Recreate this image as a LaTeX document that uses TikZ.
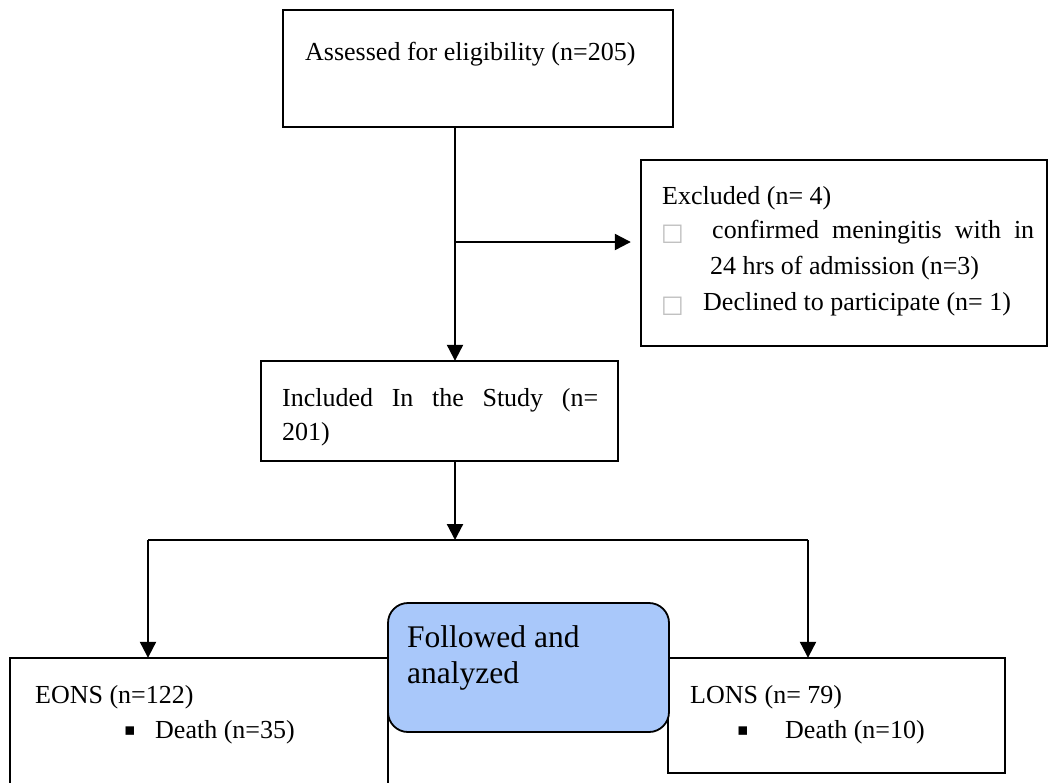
\documentclass[tikz,border=0pt]{standalone}
\usepackage{fontspec}
\setmainfont{Liberation Serif}
\newfontfamily\dejavu{DejaVu Sans}
\usetikzlibrary{arrows.meta}
\definecolor{followblue}{HTML}{A9C8FA}
\begin{document}
\begin{tikzpicture}[x=1pt,y=-1pt,
  box/.style={draw, line width=1.8pt, inner sep=0pt},
  lbl/.style={anchor=base west, inner sep=0pt, font=\fontsize{26}{35}\selectfont},
  conn/.style={line width=2.2pt},
  arr/.style={conn, -{Triangle[length=16pt,width=16pt]}},
  graybox/.style={lbl, font=\dejavu\fontsize{24}{24}\selectfont, text=black!25},
  sqbullet/.style={lbl, font=\dejavu\fontsize{17}{17}\selectfont}]
\useasboundingbox (0,0) rectangle (1049,782);
\fill[white] (0,0) rectangle (1049,782);
% boxes
\draw[box] (283,10) rectangle (673,127);
\node (A) at (478,68.5) [minimum width=390pt, minimum height=117pt] {};
\draw[box] (641,160) rectangle (1047,346);
\node (X) at (844,253) [minimum width=406pt, minimum height=186pt] {};
\draw[box] (261,361) rectangle (618,461);
\node (B) at (439.5,411) [minimum width=357pt, minimum height=100pt] {};
\draw[box] (10,658) rectangle (388,800);
\node (E) at (199,729) [minimum width=378pt, minimum height=142pt] {};
\draw[box] (668,658) rectangle (1005,773);
\node (L) at (836.5,715.5) [minimum width=337pt, minimum height=115pt] {};
\draw[box, fill=followblue, rounded corners=20pt] (388,603) rectangle (669,732);
\node (F) at (528.5,667.5) [minimum width=281pt, minimum height=129pt] {};
% texts
\node[lbl] (tA) at (305,60) {Assessed for eligibility (n=205)};
\node[lbl] (tX1) at (662,204) {Excluded (n= 4)};
\node[graybox] (tXb1) at (661,240) {□};
\node[lbl] (tX2) at (712,238) {\makebox[322pt][s]{confirmed meningitis with in}};
\node[lbl] (tX3) at (710,274) {24 hrs of admission (n=3)};
\node[graybox] (tXb2) at (661,312) {□};
\node[lbl] (tX4) at (703,310) {Declined to participate (n= 1)};
\node[lbl] (tB1) at (282,406) {\makebox[316pt][s]{Included In the Study (n=}};
\node[lbl] (tB2) at (282,440) {201)};
\node[lbl, font=\fontsize{31.5}{36}\selectfont] (tF1) at (407,647) {Followed and};
\node[lbl, font=\fontsize{31.5}{36}\selectfont] (tF2) at (407,683) {analyzed};
\node[lbl] (tE1) at (35,703) {EONS (n=122)};
\node[sqbullet] (tEb) at (124,735) {▪};
\node[lbl] (tE2) at (155,738) {Death (n=35)};
\node[lbl] (tL1) at (690,703) {LONS (n= 79)};
\node[sqbullet] (tLb) at (737,735) {▪};
\node[lbl] (tL2) at (785,738) {Death (n=10)};
% connectors
\coordinate (cx) at (455,0);
\coordinate (j1) at (455,242);
\coordinate (j2) at (455,540);
\coordinate (hl) at (148,540);
\coordinate (hr) at (808,540);
\draw[arr] (A.south -| cx) -- (B.north -| cx);
\draw[arr, shorten >=10pt] (j1) -- (j1 -| X.west);
\draw[arr] (B.south -| cx) -- (j2);
\draw[conn] (hl) -- (hr);
\draw[arr] (hl) -- (hl |- E.north);
\draw[arr] (hr) -- (hr |- L.north);
\end{tikzpicture}
\end{document}
